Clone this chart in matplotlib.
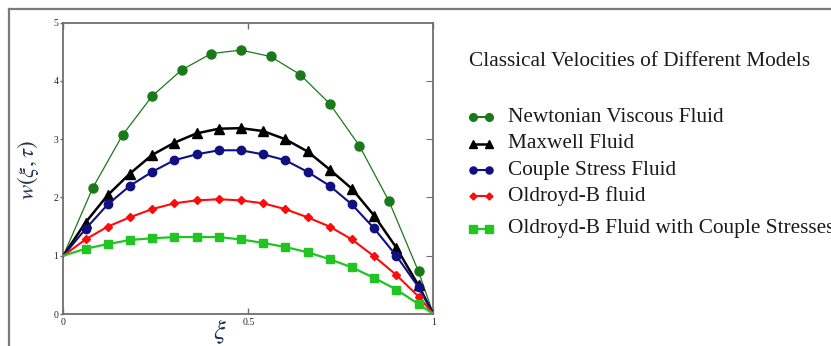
import matplotlib
matplotlib.use("Agg")
import matplotlib.pyplot as plt
from matplotlib.lines import Line2D

# Velocity profiles w(xi, tau) across the channel
xi_newtonian = [0.0, 0.08, 0.16, 0.24, 0.32, 0.40, 0.48, 0.56, 0.64, 0.72, 0.80, 0.88, 0.96, 1.0]
w_newtonian = [1.0, 2.17, 3.07, 3.74, 4.19, 4.47, 4.53, 4.42, 4.11, 3.61, 2.89, 1.94, 0.73, 0.0]

xi = [0.0, 0.06, 0.12, 0.18, 0.24, 0.30, 0.36, 0.42, 0.48, 0.54, 0.60,
      0.66, 0.72, 0.78, 0.84, 0.90, 0.96, 1.0]
w_maxwell = [1.0, 1.57, 2.04, 2.41, 2.73, 2.94, 3.10, 3.18, 3.19, 3.14, 3.00,
             2.79, 2.48, 2.15, 1.69, 1.14, 0.49, 0.0]
w_couple = [1.0, 1.46, 1.88, 2.20, 2.44, 2.64, 2.74, 2.81, 2.81, 2.74, 2.64,
            2.44, 2.20, 1.88, 1.47, 1.00, 0.46, 0.0]
w_oldroyd = [1.0, 1.28, 1.50, 1.66, 1.80, 1.90, 1.95, 1.97, 1.95, 1.90, 1.80,
             1.66, 1.50, 1.28, 0.99, 0.67, 0.30, 0.0]
w_oldroyd_cs = [1.0, 1.12, 1.20, 1.27, 1.30, 1.32, 1.32, 1.32, 1.28, 1.22, 1.15,
                1.06, 0.94, 0.80, 0.62, 0.42, 0.17, 0.0]

labels = ["Newtonian Viscous Fluid", "Maxwell Fluid", "Couple Stress Fluid",
          "Oldroyd-B fluid", "Oldroyd-B Fluid with Couple Stresses"]
legend_title = "Classical Velocities of Different Models"
x_ticks = [0, 0.5, 1]
x_ticklabels = ["0", "0.5", "1"]
y_ticks = [0, 1, 2, 3, 4, 5]

plt.rcParams["mathtext.fontset"] = "stix"
serif = "Liberation Serif"

W, H = 831, 346
fig = plt.figure(figsize=(W / 100, H / 100), dpi=100)
ax = fig.add_axes([63.3 / W, 1 - 314 / H, 370 / W, (314 - 22.7) / H])

styles = [
    dict(color="#1a7a1a", lw=0.9, marker="o", ms=6.5),
    dict(color="black", lw=1.8, marker="^", ms=6.5),
    dict(color="#101080", lw=1.5, marker="o", ms=6.0),
    dict(color="#ff0a0a", lw=1.5, marker="D", ms=4.2),
    dict(color="#22c422", lw=1.6, marker="s", ms=6.0),
]
series = [(xi_newtonian, w_newtonian), (xi, w_maxwell), (xi, w_couple),
          (xi, w_oldroyd), (xi, w_oldroyd_cs)]

for (xs, ys), st in zip(series, styles):
    ax.plot(xs, ys, markevery=slice(1, len(xs) - 1), zorder=3, **st)

ax.set_xlim(0, 1)
ax.set_ylim(0, 5)
for s in ax.spines.values():
    s.set_color("#6e6e6e")
    s.set_linewidth(1.3)

ax.set_xticks(x_ticks)
ax.set_xticklabels(x_ticklabels)
ax.set_yticks(y_ticks)
ax.tick_params(axis="both", colors="#6e6e6e", labelcolor="#222233", labelsize=7,
               width=1.0)
ax.tick_params(axis="x", direction="in", length=4, pad=3, top=True)
ax.tick_params(axis="y", direction="out", length=2.5, pad=1, right=False)
for lab in ax.get_xticklabels() + ax.get_yticklabels():
    lab.set_family(serif)
# inward ticks on the right side
ax2 = ax.twinx()
ax2.set_ylim(0, 5)
ax2.set_yticks([1, 2, 3, 4])
ax2.tick_params(axis="y", direction="in", length=5, colors="#6e6e6e", labelright=False)
for s in ax2.spines.values():
    s.set_visible(False)

fig.text(220 / W, 1 - 332 / H, r"$\xi$", ha="center", va="center",
         fontsize=19, color="#1e3350")
fig.text(28 / W, 1 - 170 / H, r"$w(\xi,\tau)$", ha="center",
         va="center", rotation=90, fontsize=16.5, color="#1e3350")

# outer frame
fig.add_artist(Line2D([9 / W, 1.0], [1 - 9 / H, 1 - 9 / H], transform=fig.transFigure,
                      color="#7a7a7a", lw=1.6))
fig.add_artist(Line2D([9 / W, 9 / W], [0.0, 1 - 9 / H], transform=fig.transFigure,
                      color="#7a7a7a", lw=1.6))

# legend block
fs = 15.3
fig.text(469 / W, 1 - 62 / H, legend_title, family=serif, fontsize=fs,
         va="center", ha="left", color="#1a1a1a")
rows_y = [117, 144, 170, 196, 229]
for yy, lab, st in zip(rows_y, labels, styles):
    yf = 1 - yy / H
    fig.add_artist(Line2D([473 / W, 489 / W], [yf, yf], transform=fig.transFigure,
                          color=st["color"], lw=max(st["lw"], 1.5),
                          marker=st["marker"], ms=st["ms"] * 0.85))
    fig.text(508 / W, yf, lab, family=serif, fontsize=fs, va="center", ha="left",
             color="#1a1a1a")

fig.savefig("out.png", dpi=100)
